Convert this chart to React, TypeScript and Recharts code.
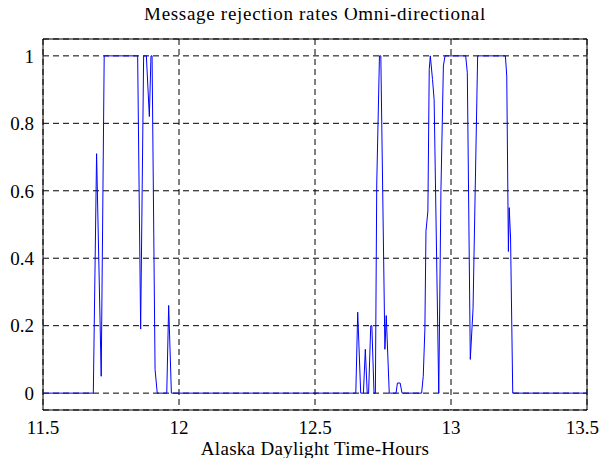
import {
  LineChart,
  Line,
  XAxis,
  YAxis,
  CartesianGrid,
  ReferenceArea,
} from "recharts";

// hours (Alaska daylight time)
const hours = [
  11.5, 11.685, 11.697, 11.714, 11.725, 11.848, 11.859, 11.87, 11.88, 11.891,
  11.897, 11.901, 11.912, 11.92, 11.955, 11.962, 11.972, 12.65, 12.657, 12.668,
  12.678, 12.685, 12.692, 12.697, 12.705, 12.709, 12.717, 12.722, 12.727,
  12.737, 12.742, 12.757, 12.762, 12.773, 12.798, 12.803, 12.813, 12.82,
  12.892, 12.898, 12.904, 12.908, 12.915, 12.92, 12.924, 12.932, 12.938,
  12.955, 12.963, 12.972, 12.978, 13.054, 13.06, 13.071, 13.081, 13.098, 13.2,
  13.205, 13.211, 13.214, 13.219, 13.227, 13.5,
];

// rejection rate
const rates = [
  0, 0, 0.71, 0.05, 1, 1, 0.19, 1, 1, 0.82,
  1, 1, 0.07, 0, 0, 0.26, 0, 0, 0.24, 0,
  0, 0.13, 0, 0, 0.2, 0.2, 0, 0, 0.62,
  1, 1, 0.13, 0.23, 0, 0, 0.03, 0.03, 0,
  0, 0.05, 0.19, 0.48, 0.54, 0.96, 1, 0.93, 0.87,
  0, 0.6, 0.97, 1, 1, 0.95, 0.1, 0.25, 1, 1,
  0.94, 0.42, 0.55, 0.46, 0, 0,
];

const xTicks = [11.5, 12, 12.5, 13, 13.5];
const yTicks = [0, 0.2, 0.4, 0.6, 0.8, 1];

const data = hours.map((h, i) => ({ h, r: rates[i] }));

const font = "'Liberation Serif', 'Times New Roman', serif";

export default function App() {
  return (
    <div style={{ position: "relative", width: 591, height: 450, fontFamily: font }}>
      <LineChart
        width={591}
        height={450}
        data={data}
        margin={{ top: 31, right: 12, left: 5, bottom: 0 }}
      >
        <CartesianGrid stroke="#000" strokeDasharray="6 4" />
        <XAxis
          dataKey="h"
          type="number"
          domain={[11.5, 13.5]}
          ticks={xTicks}
          allowDataOverflow
          height={48}
          tickSize={0}
          tickMargin={11}
          axisLine={false}
          tick={{ fill: "#000", fontSize: 19, fontFamily: font }}
          label={{
            value: "Alaska Daylight Time-Hours",
            position: "insideBottom",
            offset: 3,
            fill: "#000",
            fontSize: 19,
            fontFamily: font,
            letterSpacing: 0.3,
          }}
        />
        <YAxis
          type="number"
          domain={[-0.05, 1.05]}
          ticks={yTicks}
          allowDataOverflow
          width={30}
          tickSize={0}
          tickMargin={9}
          axisLine={false}
          tick={{ fill: "#000", fontSize: 19, fontFamily: font }}
        />
        <ReferenceArea
          x1={11.5}
          x2={13.5}
          y1={-0.05}
          y2={1.05}
          fill="none"
          stroke="#000"
          strokeWidth={1}
          ifOverflow="visible"
        />
        <Line
          dataKey="r"
          type="linear"
          stroke="#0000ff"
          strokeWidth={1}
          dot={false}
          isAnimationActive={false}
        />
      </LineChart>
      <div
        style={{
          position: "absolute",
          zIndex: 2,
          top: -6,
          left: 35,
          width: 544,
          textAlign: "center",
          fontSize: 19,
          letterSpacing: 0.7,
          lineHeight: "24px",
          color: "#000",
          pointerEvents: "none",
        }}
      >
        Message rejection rates Omni-directional
      </div>
    </div>
  );
}
